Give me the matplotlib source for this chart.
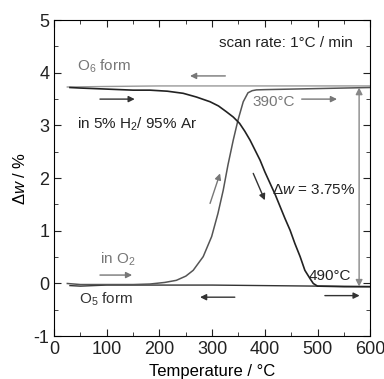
import numpy as np
import matplotlib.pyplot as plt
from matplotlib.ticker import MultipleLocator

plt.rcParams['font.family'] = ['Liberation Sans', 'DejaVu Sans']
plt.rcParams['mathtext.fontset'] = 'custom'
plt.rcParams['mathtext.rm'] = 'Liberation Sans'
plt.rcParams['mathtext.it'] = 'Liberation Sans:italic'
plt.rcParams['axes.unicode_minus'] = False

# heating in O2 (O5 -> O6)
t_o2 = [25, 50, 100, 150, 182, 210, 232, 250, 264, 283, 299, 311, 321, 330, 340, 349, 359, 368, 376, 384, 400, 450, 500, 550, 600]
w_o2 = [0.0, -0.02, -0.02, -0.02, -0.01, 0.02, 0.06, 0.14, 0.25, 0.51, 0.89, 1.33, 1.77, 2.25, 2.72, 3.1, 3.45, 3.62, 3.66, 3.675, 3.68, 3.69, 3.70, 3.71, 3.72]
# cooling in O2
t_o2c = [600, 500, 400, 300, 200, 100, 25]
w_o2c = [3.75, 3.75, 3.75, 3.75, 3.75, 3.74, 3.73]

# heating in 5% H2 / 95% Ar (O6 -> O5)
t_h2 = [30, 50, 100, 150, 182, 215, 245, 270, 296, 312, 327, 340, 352, 362, 372, 381, 391, 400, 410, 420, 429, 438, 448, 457, 467, 476, 486, 492, 500, 550, 600]
w_h2 = [3.72, 3.71, 3.69, 3.67, 3.67, 3.65, 3.61, 3.54, 3.45, 3.37, 3.26, 3.16, 3.04, 2.89, 2.72, 2.54, 2.34, 2.12, 1.9, 1.68, 1.46, 1.24, 1.01, 0.76, 0.51, 0.25, 0.09, 0.0, -0.05, -0.06, -0.06]
# cooling in H2
t_h2c = [600, 500, 400, 300, 200, 100, 50, 30]
w_h2c = [-0.06, -0.05, -0.04, -0.03, -0.03, -0.03, -0.05, -0.04]

fig = plt.figure(figsize=(3.84, 3.79), dpi=100)
ax = fig.add_axes([0.141, 0.113, 0.823, 0.834])

ax.plot(t_o2c, w_o2c, color='#999999', lw=1.0)
ax.plot(t_h2c, w_h2c, color='#333333', lw=1.0)
ax.plot(t_o2, w_o2, color='#555555', lw=1.1)
ax.plot(t_h2, w_h2, color='#222222', lw=1.2)

def arrow(x0, y0, x1, y1, c):
    ax.annotate('', xy=(x1, y1), xytext=(x0, y0),
                arrowprops=dict(arrowstyle='-|>', color=c, lw=1.0,
                                mutation_scale=9, shrinkA=0, shrinkB=0))

gray = '#777777'
dark = '#333333'
arrow(325, 3.94, 258, 3.94, gray)
arrow(87, 3.5, 153, 3.5, dark)
arrow(470, 3.5, 537, 3.5, gray)
arrow(87, 0.16, 148, 0.16, gray)
arrow(343, -0.26, 277, -0.26, dark)
arrow(514, -0.23, 580, -0.23, dark)
arrow(296, 1.52, 315, 2.09, gray)
arrow(378, 2.09, 400, 1.58, dark)
ax.annotate('', xy=(579, 3.72), xytext=(579, -0.06),
            arrowprops=dict(arrowstyle='<|-|>', color='#888888', lw=1.0,
                            mutation_scale=10, shrinkA=0, shrinkB=0))

fs = 11
ax.text(567, 4.56, 'scan rate: 1°C / min', ha='right', va='center', fontsize=fs, color='#222222')
ax.text(43, 4.12, 'O$_6$ form', ha='left', va='center', fontsize=fs, color='#777777')
ax.text(43, 3.02, 'in 5% H$_2$/ 95% Ar', ha='left', va='center', fontsize=fs, color='#222222')
ax.text(377, 3.45, '390°C', ha='left', va='center', fontsize=fs, color='#777777')
ax.text(571, 1.77, r'$\mathit{\Delta w}$ = 3.75%', ha='right', va='center', fontsize=fs, color='#222222')
ax.text(484, 0.14, '490°C', ha='left', va='center', fontsize=fs, color='#222222')
ax.text(87, 0.46, 'in O$_2$', ha='left', va='center', fontsize=fs, color='#777777')
ax.text(47, -0.3, 'O$_5$ form', ha='left', va='center', fontsize=fs, color='#333333')

ax.set_xlim(0, 600)
ax.set_ylim(-1, 5)
ax.xaxis.set_major_locator(MultipleLocator(100))
ax.xaxis.set_minor_locator(MultipleLocator(50))
ax.yaxis.set_major_locator(MultipleLocator(1))
ax.yaxis.set_minor_locator(MultipleLocator(0.5))
ax.tick_params(which='both', direction='in', top=True, right=True, labelsize=13, colors='#222222')
ax.tick_params(which='major', length=5)
ax.tick_params(which='minor', length=3)
ax.set_xlabel('Temperature / °C', fontsize=12)
ax.set_ylabel(r'$\Delta$$\mathit{w}$ / %', fontsize=12)

fig.savefig('out.png', dpi=100)
